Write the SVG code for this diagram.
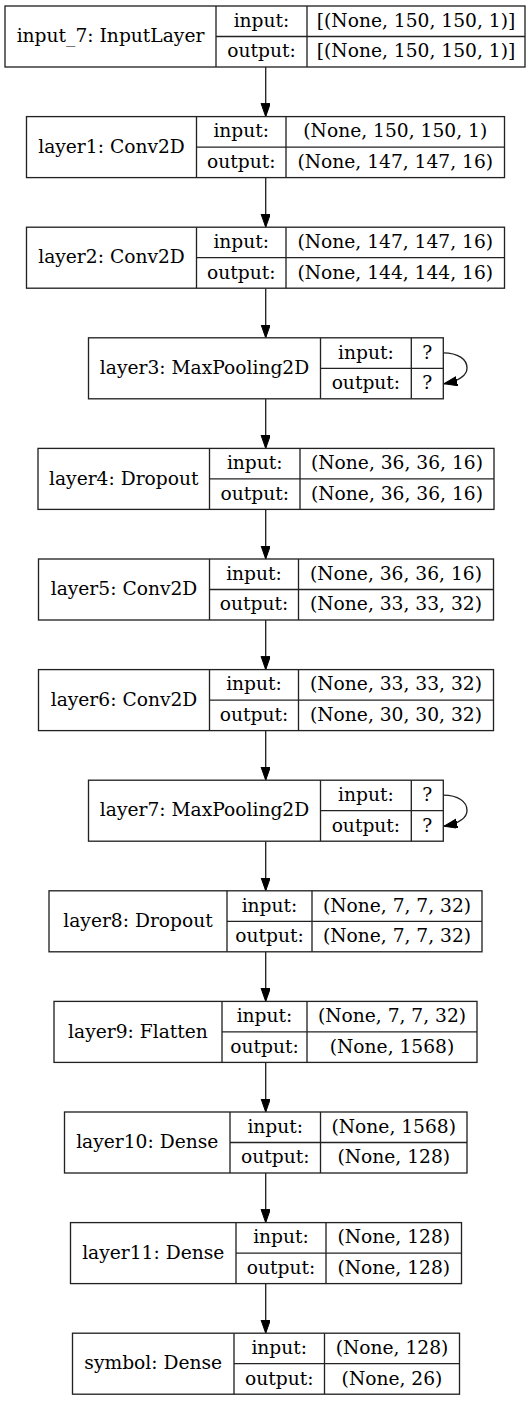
<svg xmlns="http://www.w3.org/2000/svg" width="532" height="1401" viewBox="0 0 532 1401">
<defs>
<style>
.box{fill:#fff;stroke:#222;stroke-width:1.33}
.ln{stroke:#222;stroke-width:1.33;fill:none}
text{font-family:"DejaVu Serif","Liberation Serif",serif;font-size:18.67px;fill:#000;text-anchor:middle}
.edge{stroke:#222;stroke-width:1.33;fill:none;marker-end:url(#arr)}
</style>
<marker id="arr" markerUnits="userSpaceOnUse" markerWidth="14" markerHeight="10" refX="13.3" refY="4.67" orient="auto">
<path d="M0,0 L13.3,4.67 L0,9.33 Z" fill="#000" stroke="#000" stroke-width="1"/>
</marker>
</defs>
<rect x="0" y="0" width="532" height="1401" fill="#fff"/>

<g id="connectors">
<line class="edge" x1="265.7" y1="67" x2="265.7" y2="116.6"/>
<line class="edge" x1="265.7" y1="177.6" x2="265.7" y2="227.2"/>
<line class="edge" x1="265.7" y1="288.2" x2="265.7" y2="337.8"/>
<path class="edge" d="M443.3,352.8 C458,353 467,359 467,368 C467,376 458,381 444,383.8"/>
<line class="edge" x1="265.7" y1="398.8" x2="265.7" y2="448.4"/>
<line class="edge" x1="265.7" y1="509.4" x2="265.7" y2="559"/>
<line class="edge" x1="265.7" y1="620" x2="265.7" y2="669.6"/>
<line class="edge" x1="265.7" y1="730.6" x2="265.7" y2="780.2"/>
<path class="edge" d="M443.3,795.2 C458,795.4 467,801.4 467,810.4 C467,818.4 458,823.4 444,826.2"/>
<line class="edge" x1="265.7" y1="841.2" x2="265.7" y2="890.8"/>
<line class="edge" x1="265.7" y1="951.8" x2="265.7" y2="1001.4"/>
<line class="edge" x1="265.7" y1="1062.4" x2="265.7" y2="1112"/>
<line class="edge" x1="265.7" y1="1173" x2="265.7" y2="1222.6"/>
<line class="edge" x1="265.7" y1="1283.6" x2="265.7" y2="1333.2"/>
</g>

<g id="input_7">
<rect class="box" x="5" y="6" width="520" height="61"/>
<line class="ln" x1="216" y1="6" x2="216" y2="67"/>
<line class="ln" x1="307" y1="6" x2="307" y2="67"/>
<line class="ln" x1="216" y1="36.5" x2="525" y2="36.5"/>
<text x="110.5" y="42.1">input_7: InputLayer</text>
<text x="261.5" y="26.9">input:</text>
<text x="261.5" y="57.4">output:</text>
<text x="416" y="26.9">[(None, 150, 150, 1)]</text>
<text x="416" y="57.4">[(None, 150, 150, 1)]</text>
</g>

<g id="layer1">
<rect class="box" x="26.5" y="116.6" width="478" height="61"/>
<line class="ln" x1="196.5" y1="116.6" x2="196.5" y2="177.6"/>
<line class="ln" x1="286" y1="116.6" x2="286" y2="177.6"/>
<line class="ln" x1="196.5" y1="147.1" x2="504.5" y2="147.1"/>
<text x="111.5" y="152.7">layer1: Conv2D</text>
<text x="241.25" y="137.45">input:</text>
<text x="241.25" y="167.95">output:</text>
<text x="395.25" y="137.45">(None, 150, 150, 1)</text>
<text x="395.25" y="167.95">(None, 147, 147, 16)</text>
</g>

<g id="layer2">
<rect class="box" x="26.5" y="227.2" width="478" height="61"/>
<line class="ln" x1="196.5" y1="227.2" x2="196.5" y2="288.2"/>
<line class="ln" x1="286" y1="227.2" x2="286" y2="288.2"/>
<line class="ln" x1="196.5" y1="257.7" x2="504.5" y2="257.7"/>
<text x="111.5" y="263.3">layer2: Conv2D</text>
<text x="241.25" y="248.05">input:</text>
<text x="241.25" y="278.55">output:</text>
<text x="395.25" y="248.05">(None, 147, 147, 16)</text>
<text x="395.25" y="278.55">(None, 144, 144, 16)</text>
</g>

<g id="layer3">
<rect class="box" x="88.5" y="337.8" width="354.8" height="61"/>
<line class="ln" x1="320.5" y1="337.8" x2="320.5" y2="398.8"/>
<line class="ln" x1="411.3" y1="337.8" x2="411.3" y2="398.8"/>
<line class="ln" x1="320.5" y1="368.3" x2="443.3" y2="368.3"/>
<text x="204.5" y="373.9">layer3: MaxPooling2D</text>
<text x="365.9" y="358.65">input:</text>
<text x="365.9" y="389.15">output:</text>
<text x="427.3" y="358.65">?</text>
<text x="427.3" y="389.15">?</text>
</g>

<g id="layer4">
<rect class="box" x="38" y="448.4" width="456" height="61"/>
<line class="ln" x1="209.5" y1="448.4" x2="209.5" y2="509.4"/>
<line class="ln" x1="300" y1="448.4" x2="300" y2="509.4"/>
<line class="ln" x1="209.5" y1="478.9" x2="494" y2="478.9"/>
<text x="123.75" y="484.5">layer4: Dropout</text>
<text x="254.75" y="469.25">input:</text>
<text x="254.75" y="499.75">output:</text>
<text x="397" y="469.25">(None, 36, 36, 16)</text>
<text x="397" y="499.75">(None, 36, 36, 16)</text>
</g>

<g id="layer5">
<rect class="box" x="38.5" y="559" width="455" height="61"/>
<line class="ln" x1="209.5" y1="559" x2="209.5" y2="620"/>
<line class="ln" x1="298.5" y1="559" x2="298.5" y2="620"/>
<line class="ln" x1="209.5" y1="589.5" x2="493.5" y2="589.5"/>
<text x="124" y="595.1">layer5: Conv2D</text>
<text x="254" y="579.85">input:</text>
<text x="254" y="610.35">output:</text>
<text x="396" y="579.85">(None, 36, 36, 16)</text>
<text x="396" y="610.35">(None, 33, 33, 32)</text>
</g>

<g id="layer6">
<rect class="box" x="38.5" y="669.6" width="455" height="61"/>
<line class="ln" x1="209.5" y1="669.6" x2="209.5" y2="730.6"/>
<line class="ln" x1="298.5" y1="669.6" x2="298.5" y2="730.6"/>
<line class="ln" x1="209.5" y1="700.1" x2="493.5" y2="700.1"/>
<text x="124" y="705.7">layer6: Conv2D</text>
<text x="254" y="690.45">input:</text>
<text x="254" y="720.95">output:</text>
<text x="396" y="690.45">(None, 33, 33, 32)</text>
<text x="396" y="720.95">(None, 30, 30, 32)</text>
</g>

<g id="layer7">
<rect class="box" x="88.5" y="780.2" width="354.8" height="61"/>
<line class="ln" x1="320.5" y1="780.2" x2="320.5" y2="841.2"/>
<line class="ln" x1="411.3" y1="780.2" x2="411.3" y2="841.2"/>
<line class="ln" x1="320.5" y1="810.7" x2="443.3" y2="810.7"/>
<text x="204.5" y="816.3">layer7: MaxPooling2D</text>
<text x="365.9" y="801.05">input:</text>
<text x="365.9" y="831.55">output:</text>
<text x="427.3" y="801.05">?</text>
<text x="427.3" y="831.55">?</text>
</g>

<g id="layer8">
<rect class="box" x="49" y="890.8" width="433" height="61"/>
<line class="ln" x1="227" y1="890.8" x2="227" y2="951.8"/>
<line class="ln" x1="312" y1="890.8" x2="312" y2="951.8"/>
<line class="ln" x1="227" y1="921.3" x2="482" y2="921.3"/>
<text x="138" y="926.9">layer8: Dropout</text>
<text x="269.5" y="911.65">input:</text>
<text x="269.5" y="942.15">output:</text>
<text x="397" y="911.65">(None, 7, 7, 32)</text>
<text x="397" y="942.15">(None, 7, 7, 32)</text>
</g>

<g id="layer9">
<rect class="box" x="54" y="1001.4" width="423" height="61"/>
<line class="ln" x1="222" y1="1001.4" x2="222" y2="1062.4"/>
<line class="ln" x1="307" y1="1001.4" x2="307" y2="1062.4"/>
<line class="ln" x1="222" y1="1031.9" x2="477" y2="1031.9"/>
<text x="138" y="1037.5">layer9: Flatten</text>
<text x="264.5" y="1022.25">input:</text>
<text x="264.5" y="1052.75">output:</text>
<text x="392" y="1022.25">(None, 7, 7, 32)</text>
<text x="392" y="1052.75">(None, 1568)</text>
</g>

<g id="layer10">
<rect class="box" x="64.5" y="1112" width="402.5" height="61"/>
<line class="ln" x1="230" y1="1112" x2="230" y2="1173"/>
<line class="ln" x1="320.5" y1="1112" x2="320.5" y2="1173"/>
<line class="ln" x1="230" y1="1142.5" x2="467" y2="1142.5"/>
<text x="147.25" y="1148.1">layer10: Dense</text>
<text x="275.25" y="1132.85">input:</text>
<text x="275.25" y="1163.35">output:</text>
<text x="393.75" y="1132.85">(None, 1568)</text>
<text x="393.75" y="1163.35">(None, 128)</text>
</g>

<g id="layer11">
<rect class="box" x="70.5" y="1222.6" width="391" height="61"/>
<line class="ln" x1="236" y1="1222.6" x2="236" y2="1283.6"/>
<line class="ln" x1="326" y1="1222.6" x2="326" y2="1283.6"/>
<line class="ln" x1="236" y1="1253.1" x2="461.5" y2="1253.1"/>
<text x="153.25" y="1258.7">layer11: Dense</text>
<text x="281" y="1243.45">input:</text>
<text x="281" y="1273.95">output:</text>
<text x="393.75" y="1243.45">(None, 128)</text>
<text x="393.75" y="1273.95">(None, 128)</text>
</g>

<g id="symbol">
<rect class="box" x="72.5" y="1333.2" width="387" height="61"/>
<line class="ln" x1="234" y1="1333.2" x2="234" y2="1394.2"/>
<line class="ln" x1="324.5" y1="1333.2" x2="324.5" y2="1394.2"/>
<line class="ln" x1="234" y1="1363.7" x2="459.5" y2="1363.7"/>
<text x="153.25" y="1369.3">symbol: Dense</text>
<text x="279.25" y="1354.05">input:</text>
<text x="279.25" y="1384.55">output:</text>
<text x="392" y="1354.05">(None, 128)</text>
<text x="392" y="1384.55">(None, 26)</text>
</g>
</svg>
